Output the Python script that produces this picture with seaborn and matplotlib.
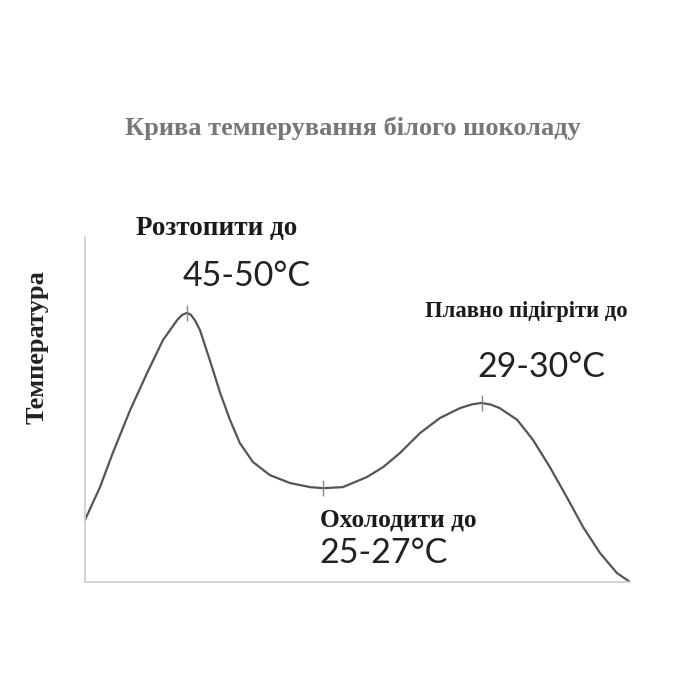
import numpy as np
import pandas as pd
import matplotlib
matplotlib.use('Agg')
import matplotlib.pyplot as plt
import seaborn as sns

# крива (умовні одиниці часу / температури)
time_pts = [0, 2.75, 5.1, 8.3, 11.4, 14.3, 16.9, 17.8, 18.7, 19.4, 20.2, 21.1, 22.9, 24.8, 26.6, 28.4,
            30.8, 33.9, 37.6, 41.3, 43.7, 47.3, 51.7, 54.7, 57.8, 61.5, 65.1, 68.8,
            71.0, 72.8, 74.5, 76.1, 79.3, 82.2, 85.3, 88.4, 91.4, 94.5, 97.6, 100]
temp_pts = [18.0, 27.5, 37.4, 49.9, 60.6, 70.1, 75.9, 77.4, 78.0, 77.5, 75.8, 73.0, 64.3, 54.8, 47.0, 40.3,
            34.8, 31.0, 28.7, 27.5, 27.2, 27.5, 30.4, 33.3, 37.4, 43.2, 47.5, 50.4,
            51.5, 51.9, 51.4, 50.4, 47.0, 41.2, 33.3, 24.6, 15.9, 8.4, 2.6, 0]

# позначки етапів
stage_time = [18.7, 43.7, 72.8]
stage_temp = [78.0, 27.2, 51.9]
stage_names = ['Розтопити до', 'Охолодити до', 'Плавно підігріти до']
stage_ranges = ['45-50°C', '25-27°C', '29-30°C']

df = pd.DataFrame({'t': time_pts, 'T': temp_pts})

sns.set_style('white')
fig = plt.figure(figsize=(7, 7), dpi=100)
ax = fig.add_axes([85 / 700, 118 / 700, 545 / 700, 345 / 700])

sns.lineplot(data=df, x='t', y='T', ax=ax, color='#555555', linewidth=1.6, sort=False)
ax.scatter(stage_time, stage_temp, marker='|', s=120, color='#888888', linewidths=1.0, zorder=3)

ax.set_xlim(0, 100)
ax.set_ylim(0, 100)
ax.set_xticks([])
ax.set_yticks([])
ax.set_xlabel('')
ax.set_ylabel('')
for side in ['top', 'right']:
    ax.spines[side].set_visible(False)
for side in ['left', 'bottom']:
    ax.spines[side].set_color('#cccccc')
    ax.spines[side].set_linewidth(1.2)

serif = ['Liberation Serif', 'DejaVu Serif']
sans = ['Lato', 'DejaVu Sans']

fig.text(353 / 700, 1 - 128 / 700, 'Крива темперування білого шоколаду',
         ha='center', va='center', family=serif, fontweight='bold', fontsize=19, color='#777777')
fig.text(37 / 700, 1 - 347 / 700, 'Температура', rotation=90,
         ha='center', va='center', family=serif, fontweight='bold', fontsize=19, color='#222222')

# підписи етапів (позиції в пікселях)
name_pos = [(217, 228), (398, 520), (526, 312)]
range_pos = [(247, 276), (384, 553), (541, 367)]
name_size = [19.5, 18.3, 16.3]
for name, rng, (nx, ny), (rx, ry), fs in zip(stage_names, stage_ranges, name_pos, range_pos, name_size):
    fig.text(nx / 700, 1 - ny / 700, name, ha='center', va='center',
             family=serif, fontweight='bold', fontsize=fs, color='#1a1a1a')
    fig.text(rx / 700, 1 - ry / 700, rng, ha='center', va='center',
             family=sans, fontsize=24.5, color='#222222')

fig.savefig('out.png', dpi=100)
